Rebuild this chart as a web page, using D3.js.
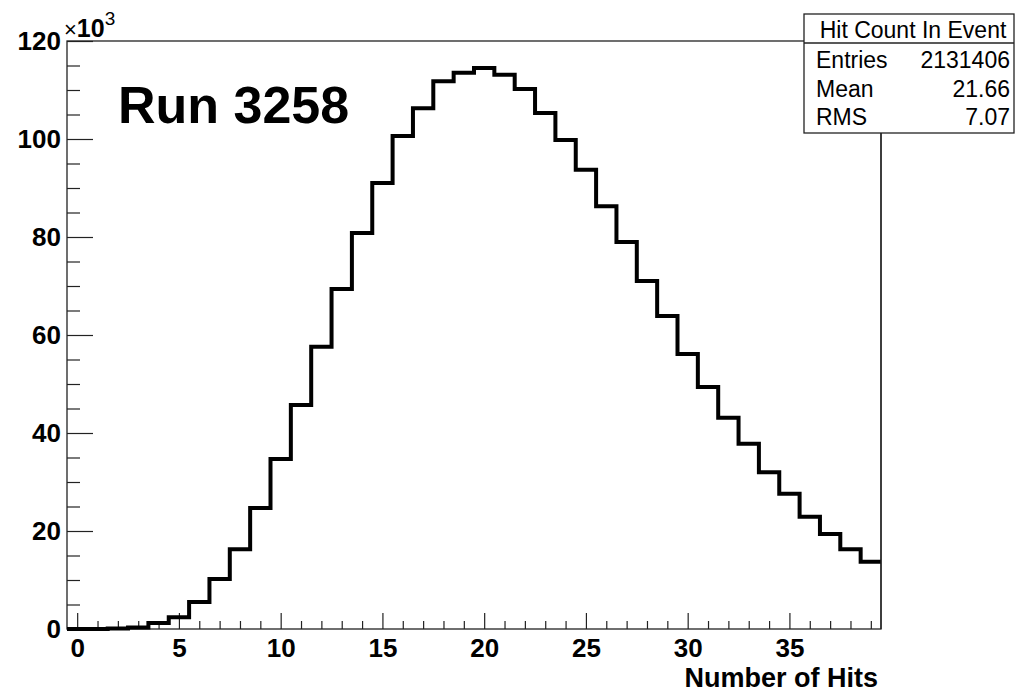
<html>
<head>
<script src="https://cdnjs.cloudflare.com/ajax/libs/d3/7.8.5/d3.min.js"></script>
<style>
  body { margin: 0; background: #fff; }
  svg { font-family: "Liberation Sans", Arial, sans-serif; }
  .tick line { stroke: #222; stroke-width: 1.2px; }
</style>
</head>
<body>
<svg width=1016 height=692></svg>
<script>

// bins of the histogram (number of hits) and their counts, in thousands
var hitBins = [0, 1, 2, 3, 4, 5, 6, 7, 8, 9, 10, 11, 12, 13, 14, 15, 16, 17, 18, 19,
               20, 21, 22, 23, 24, 25, 26, 27, 28, 29, 30, 31, 32, 33, 34, 35, 36, 37, 38, 39];
var hitCounts = [0, 0.02, 0.1, 0.3, 1.2, 2.4, 5.5, 10.2, 16.3, 24.7,
                 34.7, 45.7, 57.6, 69.4, 80.8, 91.0, 100.6, 106.3, 111.8, 113.5,
                 114.5, 113.1, 110.2, 105.3, 99.8, 93.7, 86.3, 79.0, 71.0, 63.9,
                 56.1, 49.4, 43.1, 37.8, 32.0, 27.6, 22.9, 19.4, 16.3, 13.7];

var xMajorTicks = [0, 5, 10, 15, 20, 25, 30, 35];
var xMinorTicks = [1, 2, 3, 4, 6, 7, 8, 9, 11, 12, 13, 14, 16, 17, 18, 19, 21, 22, 23, 24,
                   26, 27, 28, 29, 31, 32, 33, 34, 36, 37, 38, 39];
var yMajorTicks = [0, 20, 40, 60, 80, 100, 120];
var yMinorTicks = [5, 10, 15, 25, 30, 35, 45, 50, 55, 65, 70, 75, 85, 90, 95, 105, 110, 115];

var statsTitle = "Hit Count In Event";
var statsNames = ["Entries", "Mean", "RMS"];
var statsValues = ["2131406", "21.66", "7.07"];

// frame edges in pixels
var fLeft = 67, fRight = 881, fTop = 41, fBottom = 629;

var svg = d3.select("svg");

var x = d3.scaleLinear().domain([-0.5, 39.5]).range([fLeft, fRight]);
var y = d3.scaleLinear().domain([0, 120]).range([fBottom, fTop]);

// frame
svg.append("rect")
    .attr("x", fLeft).attr("y", fTop)
    .attr("width", fRight - fLeft).attr("height", fBottom - fTop)
    .style("fill", "none").style("stroke", "#222").style("stroke-width", "1.3px");

// x axis ticks (pointing up into the frame)
var xMinor = svg.append("g")
    .attr("transform", "translate(0," + fBottom + ")")
    .call(d3.axisBottom(x).tickValues(xMinorTicks).tickSize(-8).tickFormat(""));
xMinor.select(".domain").remove();

var xMajor = svg.append("g")
    .attr("transform", "translate(0," + fBottom + ")")
    .call(d3.axisBottom(x).tickValues(xMajorTicks).tickSize(-16).tickPadding(10));
xMajor.select(".domain").remove();
xMajor.selectAll("text")
    .style("font-size", "26px").style("font-weight", "bold").style("fill", "#000");

// y axis ticks
var yMinor = svg.append("g")
    .attr("transform", "translate(" + fLeft + ",0)")
    .call(d3.axisLeft(y).tickValues(yMinorTicks).tickSize(-13).tickFormat(""));
yMinor.select(".domain").remove();

var yMajor = svg.append("g")
    .attr("transform", "translate(" + fLeft + ",0)")
    .call(d3.axisLeft(y).tickValues(yMajorTicks).tickSize(-26).tickPadding(6));
yMajor.select(".domain").remove();
yMajor.selectAll("text")
    .style("font-size", "26px").style("font-weight", "bold").style("fill", "#000");

// x10^3 exponent
var expo = svg.append("text")
    .attr("x", 64).attr("y", 37);
expo.append("tspan").style("font-size", "22px").text("\u00d7");
expo.append("tspan").style("font-size", "25px").style("font-weight", "bold").text("10");
expo.append("tspan").attr("dy", -12).style("font-size", "19px").text("3");

// histogram outline
var histPoints = [];
hitBins.forEach(function(b, i) {
    histPoints.push([b - 0.5, hitCounts[i]]);
    histPoints.push([b + 0.5, hitCounts[i]]);
});
var histLine = d3.line()
    .x(function(d) { return x(d[0]); })
    .y(function(d) { return y(d[1]); });

svg.append("path")
    .datum(histPoints)
    .attr("d", histLine)
    .style("fill", "none")
    .style("stroke", "#000")
    .style("stroke-width", "4px")
    .style("stroke-linejoin", "miter")
    .style("stroke-linecap", "butt");

// redraw right frame edge over histogram end
svg.append("line")
    .attr("x1", fRight).attr("x2", fRight).attr("y1", fTop).attr("y2", fBottom)
    .style("stroke", "#222").style("stroke-width", "1.3px");

// run label
svg.append("text")
    .attr("x", 118).attr("y", 123)
    .style("font-size", "52px").style("font-weight", "bold")
    .text("Run 3258");

// axis title
svg.append("text")
    .attr("x", 878).attr("y", 687)
    .attr("text-anchor", "end")
    .style("font-size", "27px").style("font-weight", "bold")
    .text("Number of Hits");

// stats box
var sb = svg.append("g");
sb.append("rect")
    .attr("x", 804).attr("y", 14).attr("width", 210).attr("height", 119)
    .style("fill", "#fff").style("stroke", "#222").style("stroke-width", "1.3px");
sb.append("line")
    .attr("x1", 804).attr("x2", 1014).attr("y1", 43).attr("y2", 43)
    .style("stroke", "#222").style("stroke-width", "1.3px");
sb.append("text")
    .attr("x", 913).attr("y", 38).attr("text-anchor", "middle")
    .style("font-size", "23px")
    .text(statsTitle);
var rowY = [68, 97, 125];
statsNames.forEach(function(n, i) {
    sb.append("text").attr("x", 816).attr("y", rowY[i])
        .style("font-size", "23px").text(n);
    sb.append("text").attr("x", 1010).attr("y", rowY[i]).attr("text-anchor", "end")
        .style("font-size", "23px").text(statsValues[i]);
});

</script>
</body>
</html>
